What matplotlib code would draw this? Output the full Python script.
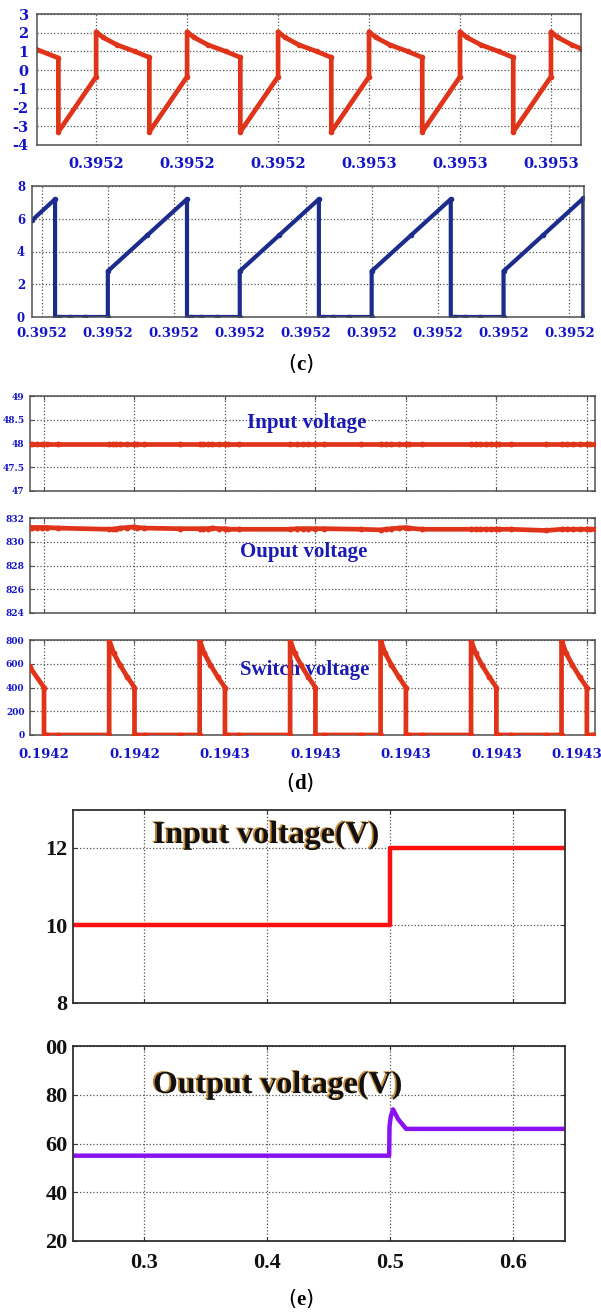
import matplotlib
matplotlib.use('Agg')
import matplotlib.pyplot as plt
import matplotlib.patheffects as pe
import matplotlib.transforms as mtransforms

plt.rcParams['mathtext.fontset'] = 'custom'
plt.rcParams['mathtext.rm'] = 'Liberation Serif'
plt.rcParams['mathtext.bf'] = 'Liberation Serif:bold'

##! Data
# (c) top: current-like waveform, x in us after first tick
c1_t = [-13.0, -8.3, -8.3,
        0.0, 0.0, 1.5, 4.6, 8.5, 11.7, 11.7,
        20.0, 20.0, 21.5, 24.6, 28.5, 31.7, 31.7,
        40.0, 40.0, 41.5, 44.6, 48.5, 51.7, 51.7,
        60.0, 60.0, 61.5, 64.6, 68.5, 71.7, 71.7,
        80.0, 80.0, 81.5, 84.6, 88.5, 91.7, 91.7,
        100.0, 100.0, 101.5, 104.6, 106.6]
c1_v = [1.1, 0.65, -3.3,
        -0.35, 2.05, 1.75, 1.35, 1.0, 0.68, -3.3,
        -0.35, 2.05, 1.75, 1.35, 1.0, 0.68, -3.3,
        -0.35, 2.05, 1.75, 1.35, 1.0, 0.68, -3.3,
        -0.35, 2.05, 1.75, 1.35, 1.0, 0.68, -3.3,
        -0.35, 2.05, 1.75, 1.35, 1.0, 0.68, -3.3,
        -0.35, 2.05, 1.75, 1.35, 1.15]
c1_ticks = [0, 20, 40, 60, 80, 100]
c1_labels = ['0.3952', '0.3952', '0.3952', '0.3953', '0.3953', '0.3953']
c1_yticks = [-4, -3, -2, -1, 0, 1, 2, 3]

# (c) bottom: x in grid units
c2_x = [-0.15, 0.2, 0.2, 0.26, 0.42, 0.65, 1.0,
        1.0, 1.6, 2.2, 2.2, 2.26, 2.42, 2.65, 3.0,
        3.0, 3.6, 4.2, 4.2, 4.26, 4.42, 4.65, 5.0,
        5.0, 5.6, 6.2, 6.2, 6.26, 6.42, 6.65, 7.0,
        7.0, 7.6, 8.21, 8.21]
c2_v = [5.9, 7.2, 0.0, 0.0, 0.0, 0.0, 0.0,
        2.8, 5.0, 7.2, 0.0, 0.0, 0.0, 0.0, 0.0,
        2.8, 5.0, 7.2, 0.0, 0.0, 0.0, 0.0, 0.0,
        2.8, 5.0, 7.2, 0.0, 0.0, 0.0, 0.0, 0.0,
        2.8, 5.0, 7.25, 0.0]
c2_ticks = [0, 1, 2, 3, 4, 5, 6, 7, 8]
c2_labels = ['0.3952'] * 9
c2_yticks = [0, 2, 4, 6, 8]

# (d) x in grid units
d_dc_x = [-0.155, -0.13, -0.08, -0.02, 0.03, 0.16, 0.72, 0.76, 0.8, 0.84,
          0.92, 1.0, 1.03, 1.11, 1.5, 1.72, 1.76, 1.81, 1.86, 1.93,
          2.0, 2.03, 2.16, 2.72, 2.8, 2.86, 2.92, 3.0, 3.1, 3.5,
          3.72, 3.78, 3.84, 3.92, 4.0, 4.03, 4.18, 4.72, 4.78, 4.82,
          4.88, 4.94, 5.0, 5.03, 5.16, 5.55, 5.72, 5.78, 5.85, 5.92,
          6.0, 6.04, 6.09]
d_in_v = [48.0, 48.0, 48.0, 48.0, 48.0, 48.0, 48.0, 48.0, 48.0, 48.0,
          48.0, 48.0, 48.0, 48.0, 48.0, 48.0, 48.0, 48.0, 48.0, 48.0,
          48.0, 48.0, 48.0, 48.0, 48.0, 48.0, 48.0, 48.0, 48.0, 48.0,
          48.0, 48.0, 48.0, 48.0, 48.0, 48.0, 48.0, 48.0, 48.0, 48.0,
          48.0, 48.0, 48.0, 48.0, 48.0, 48.0, 48.0, 48.0, 48.0, 48.0,
          48.0, 48.0, 48.0]
d_out_v = [831.2, 831.2, 831.2, 831.2, 831.2, 831.15, 831.05, 831.05, 831.1, 831.15,
           831.2, 831.25, 831.2, 831.15, 831.1, 831.1, 831.1, 831.1, 831.15, 831.1,
           831.1, 831.05, 831.05, 831.05, 831.1, 831.1, 831.1, 831.1, 831.1, 831.05,
           831.0, 831.05, 831.1, 831.15, 831.2, 831.15, 831.05, 831.05, 831.05, 831.05,
           831.05, 831.05, 831.05, 831.05, 831.05, 830.95, 831.05, 831.05, 831.05, 831.05,
           831.05, 831.05, 831.05]
d_sw_x = [-0.155, 0.0, 0.0, 0.03, 0.16, 0.72,
          0.72, 0.77, 0.84, 0.92, 1.0, 1.0, 1.03, 1.11, 1.5, 1.72,
          1.72, 1.77, 1.84, 1.92, 2.0, 2.0, 2.03, 2.16, 2.72,
          2.72, 2.77, 2.84, 2.92, 3.0, 3.0, 3.1, 3.5, 3.72,
          3.72, 3.77, 3.84, 3.92, 4.0, 4.0, 4.03, 4.18, 4.72,
          4.72, 4.77, 4.84, 4.92, 5.0, 5.0, 5.03, 5.16, 5.55, 5.72,
          5.72, 5.77, 5.84, 5.92, 6.0, 6.0, 6.06, 6.09]
d_sw_v = [570, 400, 0, 0, 0, 0,
          800, 690, 590, 490, 400, 0, 0, 0, 0, 0,
          800, 690, 590, 490, 400, 0, 0, 0, 0,
          800, 690, 590, 490, 400, 0, 0, 0, 0,
          800, 690, 590, 490, 400, 0, 0, 0, 0,
          800, 690, 590, 490, 400, 0, 0, 0, 0, 0,
          800, 690, 590, 490, 400, 0, 0, 0]
d_ticks = [0, 1, 2, 3, 4, 5, 6]
d_labels = ['0.1942', '0.1942', '0.1943', '0.1943', '0.1943', '0.1943', '0.1943']

# (e)
e_in_t = [0.2425, 0.5, 0.5, 0.642]
e_in_v = [10, 10, 12, 12]
e_out_t = [0.2425, 0.4992, 0.4995, 0.5005, 0.5024, 0.5065, 0.513, 0.642]
e_out_v = [55, 55, 67, 71, 74, 70, 66, 66]
e_ticks = [0.3, 0.4, 0.5, 0.6]
e_labels = ['0.3', '0.4', '0.5', '0.6']
e1_yticks = [8, 10, 12]
e2_yticks = [20, 40, 60, 80, 100]
e2_ylabels = ['20', '40', '60', '80', '00']

##! Layout helpers
W, H = 601, 1313
fig = plt.figure(figsize=(W / 100, H / 100), dpi=100)


def rect(l, t, r, b):
    return [l / W, 1 - b / H, (r - l) / W, (b - t) / H]


def style(ax, frame='#505050', lw=1.1):
    for s in ax.spines.values():
        s.set_color(frame)
        s.set_linewidth(lw)
    ax.grid(True, linestyle=':', color='#555555', linewidth=0.9)
    ax.set_axisbelow(True)
    ax.tick_params(direction='in', top=True, right=True, length=3, color=frame)


blue_lbl = '#1414c8'
red_c = '#e0341a'
navy = '#1c2c8c'
serif_b = dict(family='DejaVu Serif', weight='bold', color=blue_lbl)

##! (c) top
ax = fig.add_axes(rect(37, 14, 581, 145))
ax.plot(c1_t, c1_v, '-o', color=red_c, lw=3.4, ms=3, solid_joinstyle='round')
ax.set_xlim(-13.0, 106.6)
ax.set_ylim(-4, 3)
ax.set_xticks(c1_ticks, c1_labels, fontsize=10.5, **serif_b)
ax.set_yticks(c1_yticks, [str(v) for v in c1_yticks], fontsize=10.5, **serif_b)
style(ax)
ax.tick_params(axis='x', pad=9, length=0)
ax.tick_params(axis='y', pad=6, length=0)

##! (c) bottom
ax = fig.add_axes(rect(32, 186, 584, 317))
ax.plot(c2_x, c2_v, '-o', color=navy, lw=3.0, ms=3, solid_joinstyle='round')
ax.set_xlim(-0.15, 8.22)
ax.set_ylim(0, 8)
ax.set_xticks(c2_ticks, c2_labels, fontsize=9.5, **serif_b)
ax.set_yticks(c2_yticks, [str(v) for v in c2_yticks], fontsize=8.5, **serif_b)
style(ax)
ax.tick_params(axis='x', pad=7, length=0)
ax.tick_params(axis='y', pad=5, length=0)

fig.text(0.5, 1 - 363 / H, r'($\mathbf{c}$)', ha='center', va='center', fontsize=15)

##! (d)
d_rects = [(30, 396, 595, 491), (30, 518, 595, 613), (30, 640, 595, 735)]
d_series = [d_in_v, d_out_v, d_sw_v]
d_x = [d_dc_x, d_dc_x, d_sw_x]
d_ylims = [(47, 49), (824, 832), (0, 800)]
d_yticks = [[47, 47.5, 48, 48.5, 49], [824, 826, 828, 830, 832], [0, 200, 400, 600, 800]]
d_ylabels = [['47', '47.5', '48', '48.5', '49'], ['824', '826', '828', '830', '832'],
             ['0', '200', '400', '600', '800']]
d_titles = ['Input voltage', 'Ouput voltage', 'Switch voltage']
d_title_pos = [(2.9, 48.33), (2.87, 828.7), (2.88, 505)]
for i in range(3):
    ax = fig.add_axes(rect(*d_rects[i]))
    ax.plot(d_x[i], d_series[i], '-o', color=red_c, lw=3.4, ms=3.2,
            solid_joinstyle='round', zorder=3)
    ax.set_xlim(-0.155, 6.09)
    ax.set_ylim(*d_ylims[i])
    ax.set_yticks(d_yticks[i], d_ylabels[i], fontsize=6.5, **serif_b)
    if i == 2:
        ax.set_xticks(d_ticks, d_labels, fontsize=9.5, **serif_b)
    else:
        ax.set_xticks(d_ticks, [''] * len(d_ticks))
    style(ax)
    ax.tick_params(axis='x', pad=9)
    ax.tick_params(axis='y', pad=4)
    ax.text(d_title_pos[i][0], d_title_pos[i][1], d_titles[i], ha='center', va='baseline',
            family='Liberation Serif', weight='bold', fontsize=15, color='#1a1ab4', zorder=2)
    if i == 2:
        # last label sits a little left of its tick, as in the source image
        last = ax.get_xticklabels()[-1]
        last.set_transform(last.get_transform()
                           + mtransforms.ScaledTranslation(-0.1, 0, fig.dpi_scale_trans))

fig.text(0.5, 1 - 783 / H, r'($\mathbf{d}$)', ha='center', va='center', fontsize=15)

##! (e)
times_b = dict(family='Liberation Serif', weight='bold', color='#111111')
shadow = [pe.SimplePatchShadow(offset=(-1.3, 0.6), shadow_rgbFace='#c8801e', alpha=0.9), pe.Normal()]

ax = fig.add_axes(rect(73, 810, 565, 1003))
ax.plot(e_in_t, e_in_v, '-', color='#ff1010', lw=3.2)
ax.set_xlim(0.2425, 0.642)
ax.set_ylim(8, 12.97)
ax.set_xticks(e_ticks, [''] * 4)
ax.set_yticks(e1_yticks, [str(v) for v in e1_yticks], fontsize=16, **times_b)
style(ax, frame='#303030', lw=1.3)
ax.tick_params(axis='y', pad=4)
ax.text(0.3075, 12.12, 'Input voltage(V)', ha='left', va='baseline', fontsize=23,
        path_effects=shadow, **times_b)

ax = fig.add_axes(rect(73, 1046, 565, 1241))
ax.plot(e_out_t, e_out_v, '-', color='#8a12f2', lw=3.2, solid_joinstyle='round')
ax.set_xlim(0.2425, 0.642)
ax.set_ylim(20, 100)
ax.set_xticks(e_ticks, e_labels, fontsize=16, **times_b)
ax.set_yticks(e2_yticks, e2_ylabels, fontsize=16, **times_b)
style(ax, frame='#303030', lw=1.3)
ax.tick_params(axis='x', pad=9)
ax.tick_params(axis='y', pad=4)
ax.text(0.3075, 80.7, 'Output voltage(V)', ha='left', va='baseline', fontsize=23,
        path_effects=shadow, **times_b)

fig.text(0.5, 1 - 1299 / H, r'($\mathbf{e}$)', ha='center', va='center', fontsize=15)

fig.savefig('out.png', dpi=100)
